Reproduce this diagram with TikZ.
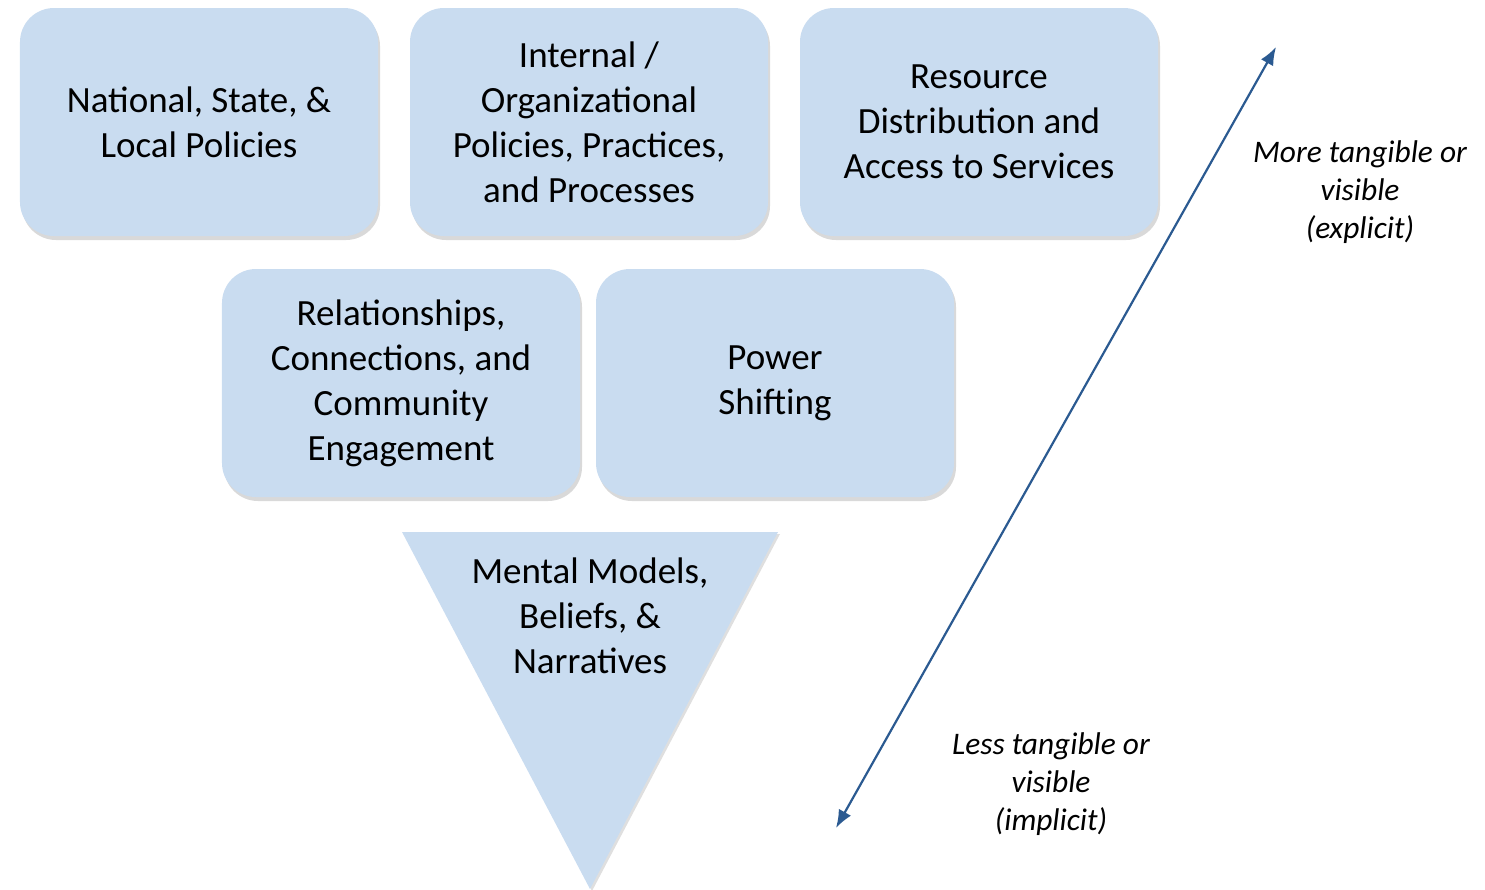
\documentclass[tikz,border=0pt]{standalone}
\usepackage{fontspec}
\setmainfont{Carlito}
\usetikzlibrary{arrows.meta}
\usetikzlibrary{shadows}
\definecolor{boxfill}{HTML}{C9DCF0}
\definecolor{arrowblue}{HTML}{2B5A91}
\tikzset{
  levelbox/.style={fill=boxfill,draw=none,rounded corners=17bp,
    minimum width=179bp,minimum height=114bp,align=center,
    font=\fontsize{18.5bp}{22.5bp}\selectfont,
    drop shadow={shadow xshift=1bp,shadow yshift=-2bp,opacity=0.3}},
  sidelabel/.style={align=center,font=\fontsize{15.7bp}{19bp}\selectfont\itshape},
}
\begin{document}
\begin{tikzpicture}[x=0.5bp,y=-0.5bp,>={Latex[length=9bp,width=7bp]},line join=bevel,]
%%
\useasboundingbox (0,0) rectangle (1485,889);
\node (node_0) at (199,122) [levelbox] {National, State, \&\\Local Policies};
  \node (node_1) at (589,122) [levelbox] {Internal /\\Organizational\\Policies, Practices,\\and Processes};
  \node (node_2) at (979,122) [levelbox] {Resource\\Distribution and\\Access to Services};
  \node (node_3) at (401,383) [levelbox] {Relationships,\\Connections, and\\Community\\Engagement};
  \node (node_4) at (775,383) [levelbox] {Power\\Shifting};
%
  \fill [boxfill,drop shadow={shadow xshift=1bp,shadow yshift=-1bp,opacity=0.25}] (402,532) -- (778,532) -- (590,889) -- cycle;
  \node (node_5) at (590,616) [align=center,font=\fontsize{18.5bp}{22.5bp}\selectfont] {Mental Models,\\Beliefs, \&\\Narratives};
%
  \coordinate (low) at (836,828);
  \coordinate (high) at (1276,47);
  \draw [arrowblue,line width=1.1bp,<->] (low) -- (high);
  \node (node_6) at (1360,192) [sidelabel] {More tangible or\\visible\\(explicit)};
  \node (node_7) at (1051,784) [sidelabel] {Less tangible or\\visible\\(implicit)};
%
\end{tikzpicture}
\end{document}
